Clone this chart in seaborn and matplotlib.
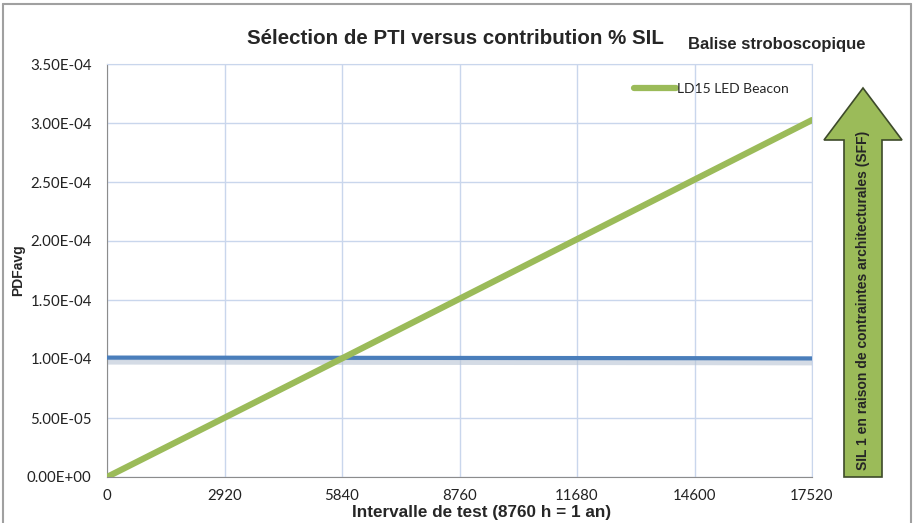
import numpy as np
import pandas as pd
import seaborn as sns
import matplotlib.pyplot as plt
from matplotlib.patches import FancyArrow
from matplotlib.lines import Line2D
from matplotlib.ticker import FuncFormatter

# data
interval_h = [0, 2920, 5840, 8760, 11680, 14600, 17520]
pfd_beacon = [0.0, 5.02e-5, 1.005e-4, 1.51e-4, 2.015e-4, 2.52e-4, 3.025e-4]
sil_limit = [1.012e-4, 1.011e-4, 1.010e-4, 1.009e-4, 1.008e-4, 1.007e-4, 1.005e-4]
y_ticks = [0, 5e-5, 1e-4, 1.5e-4, 2e-4, 2.5e-4, 3e-4, 3.5e-4]

green = '#9bbb59'
blue = '#4a7ebb'

df = pd.DataFrame({'T': interval_h, 'LD15 LED Beacon': pfd_beacon, 'SIL': sil_limit})

sns.set_style('white')
plt.rcParams['font.family'] = ['Lato', 'DejaVu Sans']

fig = plt.figure(figsize=(9.14, 5.23), dpi=100)
ax = fig.add_axes([107 / 914, 1 - 477 / 523, 705 / 914, 413 / 523])

# blue line with a soft shadow underneath
ax.plot(df['T'], np.array(sil_limit) - 0.3e-5, color='#b8c4d4', lw=5, alpha=0.6, zorder=2)
sns.lineplot(data=df, x='T', y='SIL', ax=ax, color=blue, lw=3, zorder=3)
sns.lineplot(data=df, x='T', y='LD15 LED Beacon', ax=ax, color=green, lw=4.5, zorder=4)

ax.set_xlim(0, 17520)
ax.set_ylim(0, 3.5e-4)
ax.set_xticks(interval_h)
ax.set_yticks(y_ticks)
ax.yaxis.set_major_formatter(FuncFormatter(lambda v, p: f'{v:.2E}'))
ax.tick_params(axis='both', labelsize=10.8, length=0, colors='#222222')
ax.tick_params(axis='x', pad=9)
ax.tick_params(axis='y', pad=11)
ax.grid(True, color='#c9d6ec', lw=1)
for s in ['top', 'right']:
    ax.spines[s].set_color('#c9d6ec')
for s in ['left', 'bottom']:
    ax.spines[s].set_color('#8c8c8c')

ax.set_xlabel('')
ax.set_ylabel('')
fig.text(482 / 914, 1 - 513 / 523, 'Intervalle de test (8760 h = 1 an)', ha='center', va='center',
         fontsize=12.3, fontweight='bold', family=['Liberation Sans'])
fig.text(18 / 914, 1 - 270 / 523, 'PDFavg', rotation=90, ha='center', va='center',
         fontsize=10, fontweight='bold', family=['Liberation Sans'])

leg_handle = Line2D([], [], color=green, lw=4.5)
ax.legend([leg_handle], ['LD15 LED Beacon'], loc='upper right', bbox_to_anchor=(0.985, 0.985),
          frameon=False, fontsize=10, handlelength=3.0, handletextpad=0.1)

fig.text(455 / 914, 1 - 38 / 523, 'Sélection de PTI versus contribution % SIL', ha='center', va='center',
         fontsize=14.8, fontweight='bold', family=['Liberation Sans'])
fig.text(777 / 914, 1 - 45 / 523, 'Balise stroboscopique', ha='center', va='center',
         fontsize=12, fontweight='bold', family=['Liberation Sans'])

# big upward arrow at right
arrow = FancyArrow(863 / 914, 1 - 477 / 523, 0, (477 - 88) / 523, width=38 / 914,
                   head_width=78 / 914, head_length=52 / 523, length_includes_head=True,
                   transform=fig.transFigure, facecolor=green, edgecolor='#3d4a2a', lw=1.2)
fig.patches.append(arrow)
fig.text(863 / 914, 1 - 300 / 523, 'SIL 1 en raison de contraintes architecturales (SFF)', rotation=90,
         ha='center', va='center', fontsize=10, fontweight='bold', family=['Liberation Sans'])

# outer frame
for xs, ys in [([3, 3], [523, 4]), ([3, 911], [4, 4]), ([911, 911], [4, 523])]:
    fig.add_artist(Line2D([x / 914 for x in xs], [1 - y / 523 for y in ys], color='#a0a0a0', lw=1.5))

fig.savefig('out.png', dpi=100)
